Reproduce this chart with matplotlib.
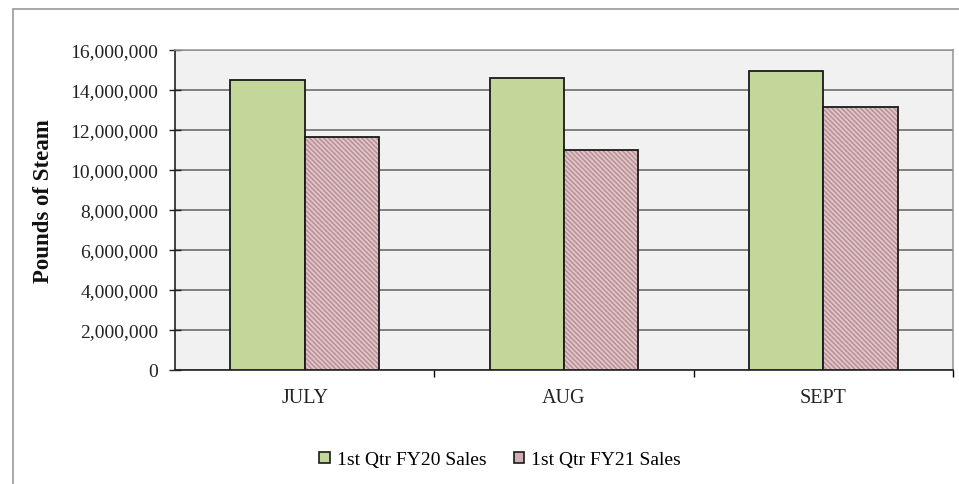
import numpy as np
import matplotlib.pyplot as plt
from matplotlib.patches import Rectangle, Patch
from matplotlib.ticker import FuncFormatter

months = ["JULY", "AUG", "SEPT"]
fy20_sales = [14_520_000, 14_590_000, 14_970_000]
fy21_sales = [11_630_000, 11_010_000, 13_170_000]
series_labels = ["1st Qtr FY20 Sales", "1st Qtr FY21 Sales"]

green = "#C4D79B"
rose_bg = "#E0C6C8"
rose_hatch = "#B88F96"

plt.rcParams["font.family"] = ["Liberation Serif", "DejaVu Serif"]
plt.rcParams["hatch.linewidth"] = 1.1

fig = plt.figure(figsize=(9.59, 4.85), dpi=100)
fig.patches.append(Rectangle((13 / 959, -0.1), 1.2, 1.1 - 10 / 485,
                             transform=fig.transFigure, fill=False,
                             edgecolor="#9a9a9a", linewidth=1.2))

ax = fig.add_axes([175 / 959, (485 - 371) / 485, 778 / 959, 320 / 485])
ax.set_facecolor("#F1F1F1")

x = np.arange(len(months))
w = 0.286
ax.bar(x - w / 2, fy20_sales, w, color=green, edgecolor="#1a1a1a",
       linewidth=1.3, zorder=3)
# hatched fill first, then the black outline on top
ax.bar(x + w / 2, fy21_sales, w, color=rose_bg, edgecolor=rose_hatch,
       hatch="\\" * 7, linewidth=0, zorder=3)
ax.bar(x + w / 2, fy21_sales, w, fill=False, edgecolor="#1a1a1a",
       linewidth=1.3, zorder=4)

ax.set_xlim(-0.5, 2.5)
ax.set_ylim(0, 16_000_000)
ax.set_yticks(np.arange(0, 16_000_001, 2_000_000))
ax.yaxis.set_major_formatter(FuncFormatter(lambda v, p: f"{int(v):,}"))
ax.grid(axis="y", color="#7f7f7f", linewidth=1.4, zorder=1)

ax.set_xticks(x)
ax.set_xticklabels(months)
ax.set_xticks([0.5, 1.5, 2.5], minor=True)
ax.tick_params(axis="x", which="major", length=0, pad=13, labelsize=14.5,
               labelcolor="#222222")
ax.tick_params(axis="x", which="minor", length=5, width=1, direction="out")
ax.tick_params(axis="y", length=8, width=1, direction="inout", pad=8,
               labelsize=14, colors="#222222")

for side in ("left", "bottom"):
    ax.spines[side].set_color("#222222")
    ax.spines[side].set_linewidth(1.2)
for side in ("top", "right"):
    ax.spines[side].set_color("#9a9a9a")
    ax.spines[side].set_linewidth(1.2)

ax.set_ylabel("Pounds of Steam", fontsize=16.5, fontweight="bold",
              color="#111111")
ax.yaxis.set_label_coords(-0.156, 0.53)

handles = [Patch(facecolor=green, edgecolor="#1a1a1a", linewidth=1.2),
           Patch(facecolor="#CFAFB4", edgecolor="#1a1a1a", linewidth=1.2)]
fig.legend(handles, series_labels, loc="center", bbox_to_anchor=(500 / 959, 1 - 461 / 485),
           ncol=2, frameon=False, fontsize=14, handlelength=0.55, handleheight=0.55,
           handletextpad=0.35, columnspacing=1.4)

fig.savefig("out.png", dpi=100)
